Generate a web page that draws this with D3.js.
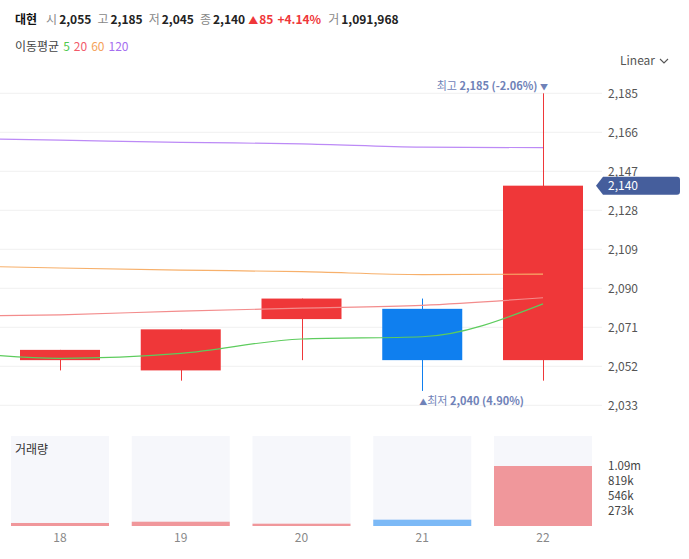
<!DOCTYPE html>
<html>
<head>
<meta charset="utf-8">
<script src="https://cdn.jsdelivr.net/npm/d3@7"></script>
<style>
  body { margin: 0; background: #fff; }
  svg { font-family: "Noto Sans CJK KR", "Noto Sans", sans-serif; }
</style>
</head>
<body>
<svg id="chart" width="689" height="559"></svg>
<script>
// candles (days 18..22)
var days = [18, 19, 20, 21, 22];
var opens = [2055, 2050, 2075, 2080, 2055];
var highs = [2060, 2070, 2085, 2085, 2185];
var lows = [2050, 2045, 2055, 2040, 2045];
var closes = [2060, 2070, 2085, 2055, 2140];
var volumes = [55000, 78000, 42000, 115000, 1091968];

// moving averages, day 17 is off screen on the left
var maDays = [17, 18, 19, 20, 21, 22];
var ma5 = [2059.7, 2055.9, 2058.3, 2065.3, 2066.4, 2082.4];
var ma20 = [2076.2, 2077.1, 2078.9, 2080.3, 2081.7, 2085.4];
var ma60 = [2101.1, 2099.9, 2098.9, 2098.1, 2096.7, 2096.9];
var ma120 = [2163.2, 2162.2, 2161.1, 2160.4, 2158.8, 2158.5];

var priceTicks = [2033, 2052, 2071, 2090, 2109, 2128, 2147, 2166, 2185];
var name = "대현", change = 85, changePct = 4.14;

var svg = d3.select("#chart");
var red = "#ef3739", blue = "#0f7fef";

var x = d3.scaleLinear().domain([18, 22]).range([60, 543]);
var y = d3.scaleLinear().domain([2033, 2185]).range([405.3, 93.3]);
var vy = d3.scaleLinear().domain([0, d3.max(volumes) * 1.5]).range([526, 436]);
var fmt = d3.format(",");

// header
var h = svg.append("text").attr("x", 15).attr("y", 24).style("font-size", "12px");
h.append("tspan").attr("font-weight", "bold").attr("fill", "#111").text(name);
var labels = ["시", "고", "저", "종"];
var vals = [opens[4], highs[4], lows[4], closes[4]];
labels.forEach(function(l, i) {
  h.append("tspan").attr("fill", "#888").attr("dx", i == 0 ? 9 : 6).text(l);
  h.append("tspan").attr("fill", "#222").attr("font-weight", 600).attr("dx", 2).text(fmt(vals[i]));
});
h.append("tspan").attr("fill", red).attr("dx", 3).style("font-size", "10px").text("▲");
h.append("tspan").attr("fill", red).attr("font-weight", 600).attr("dx", 1).text(change);
h.append("tspan").attr("fill", red).attr("font-weight", 600).attr("dx", 4).text("+" + changePct.toFixed(2) + "%");
h.append("tspan").attr("fill", "#888").attr("dx", 7).text("거");
h.append("tspan").attr("fill", "#222").attr("font-weight", 600).attr("dx", 2).text(fmt(volumes[4]));

var maInfo = [
  {n: 5, c: "#4fc84f", v: ma5},
  {n: 20, c: "#f25a6a", v: ma20},
  {n: 60, c: "#f5a259", v: ma60},
  {n: 120, c: "#a56ef0", v: ma120}
];
var h2 = svg.append("text").attr("x", 15).attr("y", 51).style("font-size", "12px");
h2.append("tspan").attr("fill", "#444").text("이동평균");
maInfo.forEach(function(m) {
  h2.append("tspan").attr("fill", m.c).attr("dx", 4).text(m.n);
});

// Linear dropdown
svg.append("text").attr("x", 620).attr("y", 65).attr("fill", "#555")
  .style("font-size", "12px").text("Linear");
svg.append("path").attr("d", "M660,59L664,63L668,59").attr("fill", "none")
  .attr("stroke", "#555").attr("stroke-width", 1.1);

// grid + ticks
svg.append("g").selectAll("line").data(priceTicks).enter().append("line")
  .attr("x1", 0).attr("x2", 602)
  .attr("y1", function(d) { return y(d); }).attr("y2", function(d) { return y(d); })
  .attr("stroke", "#f0f0f0");
svg.append("g").selectAll("text").data(priceTicks).enter().append("text")
  .attr("x", 608).attr("y", function(d) { return y(d) + 4.5; })
  .attr("fill", "#555").style("font-size", "12px")
  .text(function(d) { return fmt(d); });

// plot clip
svg.append("clipPath").attr("id", "clip").append("rect")
  .attr("x", 0).attr("y", 70).attr("width", 600).attr("height", 350);
var plot = svg.append("g").attr("clip-path", "url(#clip)");

// candles
var bw = 80;
var c = plot.selectAll("g.candle").data(days).enter().append("g");
c.append("line")
  .attr("x1", function(d) { return Math.round(x(d)) + 0.5; })
  .attr("x2", function(d) { return Math.round(x(d)) + 0.5; })
  .attr("y1", function(d, i) { return y(highs[i]); })
  .attr("y2", function(d, i) { return y(lows[i]); })
  .attr("stroke", function(d, i) { return closes[i] >= opens[i] ? red : blue; });
c.append("rect")
  .attr("x", function(d) { return x(d) - bw / 2; })
  .attr("width", bw)
  .attr("y", function(d, i) { return y(Math.max(opens[i], closes[i])); })
  .attr("height", function(d, i) { return Math.abs(y(opens[i]) - y(closes[i])); })
  .attr("fill", function(d, i) { return closes[i] >= opens[i] ? red : blue; });

// MA lines on top of candles
var line = d3.line().curve(d3.curveMonotoneX)
  .x(function(d, i) { return x(maDays[i]); })
  .y(function(d) { return y(d); });
var maLineColors = ["#5dcc5d", "#f38c8c", "#f7b06b", "#bc8af6"];
maInfo.slice().reverse().forEach(function(m) {
  var i = maInfo.indexOf(m);
  plot.append("path").attr("d", line(m.v)).attr("fill", "none")
    .attr("stroke", maLineColors[i]).attr("stroke-width", 1.2);
});

// high / low marks
var hiIdx = d3.maxIndex(highs), loIdx = d3.minIndex(lows);
var last = closes[closes.length - 1];
var hiPct = (last - highs[hiIdx]) / highs[hiIdx] * 100;
var loPct = (last - lows[loIdx]) / lows[loIdx] * 100;
var hi = svg.append("text").attr("x", x(days[hiIdx]) + 5).attr("y", y(highs[hiIdx]) - 3)
  .attr("text-anchor", "end").attr("fill", "#6f82b8").style("font-size", "11px");
hi.append("tspan").text("최고 ");
hi.append("tspan").attr("font-weight", "bold").text(fmt(highs[hiIdx]) + " (" + hiPct.toFixed(2) + "%) ");
hi.append("tspan").style("font-size", "8px").text("▼");
var lo = svg.append("text").attr("x", x(days[loIdx]) - 3).attr("y", y(lows[loIdx]) + 14)
  .attr("fill", "#6f82b8").style("font-size", "11px");
lo.append("tspan").style("font-size", "8px").text("▲");
lo.append("tspan").text("최저 ");
lo.append("tspan").attr("font-weight", "bold").text(fmt(lows[loIdx]) + " (" + loPct.toFixed(2) + "%)");

// current price tag
var ty = y(last);
svg.append("path")
  .attr("d", "M596," + ty + "L603," + (ty - 9) + "H677Q680," + (ty - 9) + " 680," + (ty - 6) +
    "V" + (ty + 6) + "Q680," + (ty + 9) + " 677," + (ty + 9) + "H603Z")
  .attr("fill", "#455e9c");
svg.append("text").attr("x", 608).attr("y", ty + 4.5).attr("fill", "#fff")
  .style("font-size", "12px").text(fmt(last));

// volume panel
var vw = 98;
svg.append("g").selectAll("rect").data(days).enter().append("rect")
  .attr("x", function(d) { return x(d) - vw / 2; }).attr("width", vw)
  .attr("y", vy.range()[1]).attr("height", vy.range()[0] - vy.range()[1])
  .attr("fill", "#f6f7fb");
svg.append("g").selectAll("rect").data(days).enter().append("rect")
  .attr("x", function(d) { return x(d) - vw / 2; }).attr("width", vw)
  .attr("y", function(d, i) { return vy(volumes[i]); })
  .attr("height", function(d, i) { return vy(0) - vy(volumes[i]); })
  .attr("fill", function(d, i) { return closes[i] >= opens[i] ? "#f0979b" : "#7cb9f6"; });
svg.append("text").attr("x", 15).attr("y", 454).attr("fill", "#333")
  .style("font-size", "12px").text("거래량");

var vmax = d3.max(volumes);
var volTicks = [4, 3, 2, 1].map(function(k) { return vmax * k / 4; });
svg.append("g").selectAll("text").data(volTicks).enter().append("text")
  .attr("x", 608).attr("y", function(d) { return vy(d) + 4; })
  .attr("fill", "#444").style("font-size", "11.5px")
  .text(function(d) { return d >= 1e6 ? (d / 1e6).toFixed(2) + "m" : Math.round(d / 1000) + "k"; });

// x labels
svg.append("g").selectAll("text").data(days).enter().append("text")
  .attr("x", function(d) { return x(d); }).attr("y", 542)
  .attr("text-anchor", "middle").attr("fill", "#888").style("font-size", "12px")
  .text(function(d) { return d; });
</script>
</body>
</html>
